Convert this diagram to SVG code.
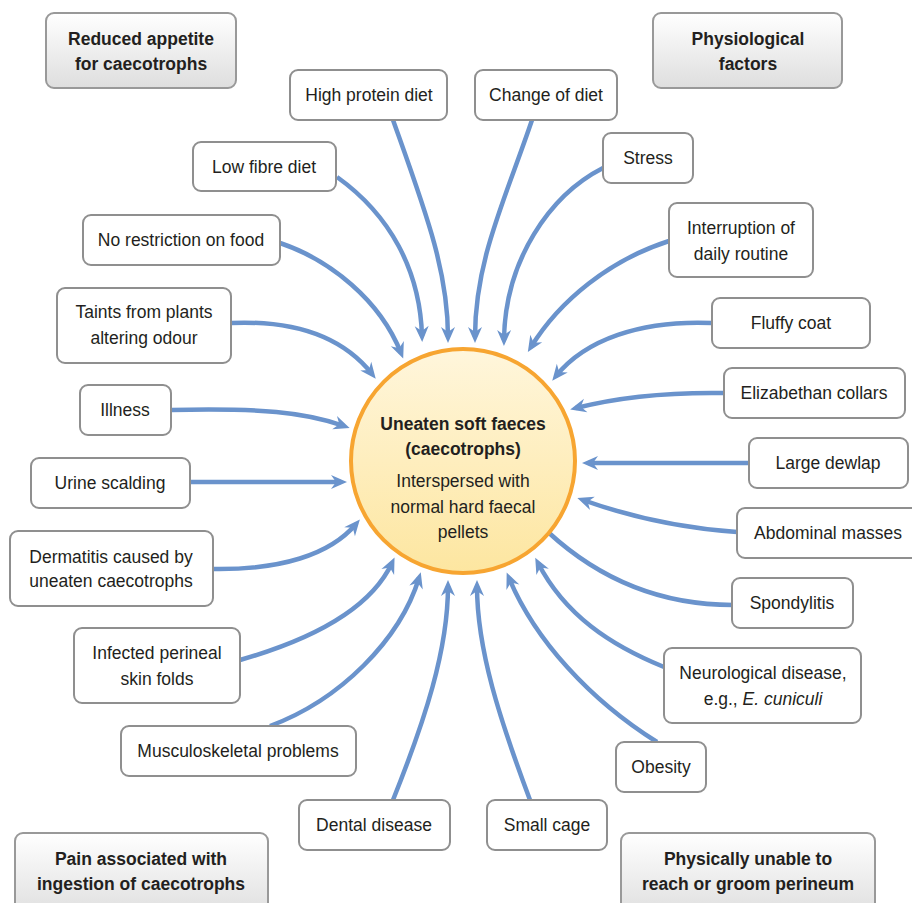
<svg xmlns="http://www.w3.org/2000/svg" width="912" height="903" viewBox="0 0 912 903">
<style>
.box{fill:#fff;stroke:#8f8f8f;stroke-width:2}
.cbox{fill:url(#cg);stroke:#999;stroke-width:2}
text{font-family:"Liberation Sans",Arial,sans-serif;font-size:17.5px;fill:#231f20;text-anchor:middle}
.b{font-weight:bold}
.con path{fill:none;stroke:#6a93cc;stroke-width:4.5;marker-end:url(#ah)}
</style>
<defs>
<linearGradient id="cg" x1="0" y1="0" x2="0" y2="1"><stop offset="0" stop-color="#ffffff"/><stop offset="1" stop-color="#dedede"/></linearGradient>
<linearGradient id="circ" x1="0" y1="0" x2="0" y2="1"><stop offset="0" stop-color="#fff6dc"/><stop offset="1" stop-color="#fde6a0"/></linearGradient>
<marker id="ah" markerUnits="userSpaceOnUse" markerWidth="20" markerHeight="20" refX="10" refY="0" orient="auto" overflow="visible"><path d="M0,-7 L16,0 L0,7 L5,0 z" fill="#6a93cc"/></marker>
</defs>
<rect width="912" height="903" fill="#fff"/>
<g class="con" id="connectors">
<path d="M393,120 C425,210 448,270 448,337"/>
<path d="M532,120 C505,200 475,260 475,337"/>
<path d="M337,177 C390,215 420,270 422,336"/>
<path d="M280,243 C330,260 380,300 401,353"/>
<path d="M231,323 C300,320 345,340 372,374"/>
<path d="M603,168 C550,195 505,260 504,340"/>
<path d="M669,241 C610,260 560,300 531,347"/>
<path d="M712,323 C640,320 585,340 556,376"/>
<path d="M724,393 C660,392 615,398 576,408"/>
<path d="M749,463 L588,463"/>
<path d="M737,532 C680,528 625,515 583,500"/>
<path d="M733,605 C660,605 600,580 548,532" style="marker-end:none"/>
<path d="M664,667 C610,645 565,615 538,563"/>
<path d="M657,742 C590,700 535,640 509,578"/>
<path d="M530,800 C500,720 477,650 477,586"/>
<path d="M393,800 C425,720 448,650 448,586"/>
<path d="M270,726 C340,700 400,640 419,578"/>
<path d="M240,660 C310,640 370,610 392,563"/>
<path d="M213,569 C280,570 330,555 356,524"/>
<path d="M171,410 C260,408 305,412 344,426"/>
<path d="M190,482 L341,482"/>
</g>
<g id="center">
<circle cx="463" cy="461" r="112" fill="url(#circ)" stroke="#f7a531" stroke-width="4"/>
<text class="b" x="463" y="430">Uneaten soft faeces</text>
<text class="b" x="463" y="455">(caecotrophs)</text>
<text x="463" y="487">Interspersed with</text>
<text x="463" y="513">normal hard faecal</text>
<text x="463" y="538">pellets</text>
</g>
<g id="n-reduced"><rect class="cbox" x="46" y="13" width="190" height="75" rx="8"/><text class="b" x="141" y="45">Reduced appetite</text><text class="b" x="141" y="70">for caecotrophs</text></g>
<g id="n-physio"><rect class="cbox" x="653" y="13" width="189" height="75" rx="8"/><text class="b" x="748" y="45">Physiological</text><text class="b" x="748" y="70">factors</text></g>
<g id="n-pain"><rect class="cbox" x="15" y="833" width="253" height="85" rx="8"/><text class="b" x="141" y="865">Pain associated with</text><text class="b" x="141" y="890">ingestion of caecotrophs</text></g>
<g id="n-phys"><rect class="cbox" x="621" y="833" width="254" height="85" rx="8"/><text class="b" x="748" y="865">Physically unable to</text><text class="b" x="748" y="890">reach or groom perineum</text></g>
<g id="n-highprotein"><rect class="box" x="290" y="70" width="157" height="50" rx="8"/><text x="369" y="101">High protein diet</text></g>
<g id="n-changediet"><rect class="box" x="475" y="70" width="142" height="50" rx="8"/><text x="546" y="101">Change of diet</text></g>
<g id="n-lowfibre"><rect class="box" x="193" y="142" width="143" height="49" rx="8"/><text x="264" y="173">Low fibre diet</text></g>
<g id="n-stress"><rect class="box" x="603" y="133" width="90" height="50" rx="8"/><text x="648" y="164">Stress</text></g>
<g id="n-norestriction"><rect class="box" x="83" y="215" width="197" height="50" rx="8"/><text x="181" y="246">No restriction on food</text></g>
<g id="n-interruption"><rect class="box" x="669" y="203" width="144" height="74" rx="8"/><text x="741" y="234">Interruption of</text><text x="741" y="260">daily routine</text></g>
<g id="n-taints"><rect class="box" x="57" y="288" width="174" height="75" rx="8"/><text x="144" y="318">Taints from plants</text><text x="144" y="344">altering odour</text></g>
<g id="n-fluffy"><rect class="box" x="712" y="298" width="158" height="50" rx="8"/><text x="791" y="329">Fluffy coat</text></g>
<g id="n-illness"><rect class="box" x="80" y="385" width="91" height="50" rx="8"/><text x="125" y="416">Illness</text></g>
<g id="n-collars"><rect class="box" x="724" y="368" width="181" height="50" rx="8"/><text x="814" y="399">Elizabethan collars</text></g>
<g id="n-urine"><rect class="box" x="31" y="458" width="159" height="50" rx="8"/><text x="110" y="489">Urine scalding</text></g>
<g id="n-dewlap"><rect class="box" x="749" y="438" width="159" height="50" rx="8"/><text x="828" y="469">Large dewlap</text></g>
<g id="n-dermatitis"><rect class="box" x="10" y="531" width="203" height="75" rx="8"/><text x="111" y="563">Dermatitis caused by</text><text x="111" y="587">uneaten caecotrophs</text></g>
<g id="n-abdominal"><rect class="box" x="737" y="508" width="185" height="50" rx="8"/><text x="828" y="539">Abdominal masses</text></g>
<g id="n-spondylitis"><rect class="box" x="732" y="578" width="121" height="50" rx="8"/><text x="792" y="609">Spondylitis</text></g>
<g id="n-infected"><rect class="box" x="74" y="628" width="166" height="75" rx="8"/><text x="157" y="659">Infected perineal</text><text x="157" y="685">skin folds</text></g>
<g id="n-neuro"><rect class="box" x="664" y="648" width="197" height="75" rx="8"/><text x="763" y="679">Neurological disease,</text><text x="763" y="705">e.g., <tspan font-style="italic">E. cuniculi</tspan></text></g>
<g id="n-musculo"><rect class="box" x="121" y="726" width="235" height="50" rx="8"/><text x="238" y="757">Musculoskeletal problems</text></g>
<g id="n-obesity"><rect class="box" x="616" y="742" width="90" height="50" rx="8"/><text x="661" y="773">Obesity</text></g>
<g id="n-dental"><rect class="box" x="299" y="800" width="151" height="50" rx="8"/><text x="374" y="831">Dental disease</text></g>
<g id="n-smallcage"><rect class="box" x="487" y="800" width="120" height="50" rx="8"/><text x="547" y="831">Small cage</text></g>
</svg>
